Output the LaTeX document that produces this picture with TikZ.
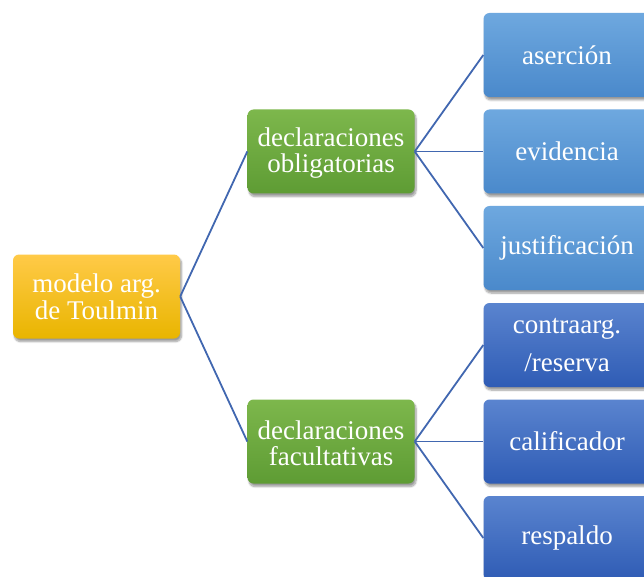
\documentclass[tikz,border=0pt]{standalone}
\usepackage{fontspec}
\setmainfont{Liberation Serif}
\usetikzlibrary{shadows.blur}
\definecolor{goldT}{HTML}{FFCA48}
\definecolor{goldB}{HTML}{E9B500}
\definecolor{greenT}{HTML}{7DB74C}
\definecolor{greenB}{HTML}{5E9C34}
\definecolor{lblueT}{HTML}{6EA8DF}
\definecolor{lblueB}{HTML}{4A89CB}
\definecolor{dblueT}{HTML}{5A84CF}
\definecolor{dblueB}{HTML}{2F5CB5}
\definecolor{linkc}{HTML}{4167B0}
\tikzset{
  x=1pt, y=-1pt,
  box/.style={rounded corners=6pt, minimum width=167pt, minimum height=84pt,
    text=white, align=center, font=\fontsize{27}{27}\selectfont, inner sep=0pt,
    blur shadow={shadow xshift=1.5pt, shadow yshift=-3pt, shadow blur steps=8, shadow opacity=40}},
  rootbox/.style={box, top color=goldT, bottom color=goldB},
  greenbox/.style={box, top color=greenT, bottom color=greenB, font=\fontsize{27}{26.5}\selectfont, text height=48.5pt},
  lbluebox/.style={box, top color=lblueT, bottom color=lblueB},
  dbluebox/.style={box, top color=dblueT, bottom color=dblueB},
  link/.style={draw=linkc, line width=1.8pt}
}
\begin{document}
\begin{tikzpicture}
\clip (0,0) rectangle (644,577);
\useasboundingbox (0,0) rectangle (644,577);
\node[rootbox] (root) at (96.5,296.5) {modelo arg.\\de Toulmin};
\node[greenbox] (ob) at (331,151.5) {declaraciones\\obligatorias};
\node[greenbox] (fa) at (331,441.5) {declaraciones\\facultativas};
\node[lbluebox] (as) at (567,55) {aserción};
\node[lbluebox] (ev) at (567,151.5) {evidencia};
\node[lbluebox] (ju) at (567,248) {justificación};
\node[dbluebox, font=\fontsize{27}{38}\selectfont] (co) at (567,345) {contraarg.\\/reserva};
\node[dbluebox] (ca) at (567,441.5) {calificador};
\node[dbluebox] (re) at (567,538) {respaldo};
\draw[link] (root.east) -- (ob.west);
\draw[link] (root.east) -- (fa.west);
\draw[link] (ob.east) -- (as.west);
\draw[link] (ob.east) -- (ev.west);
\draw[link] (ob.east) -- (ju.west);
\draw[link] (fa.east) -- (co.west);
\draw[link] (fa.east) -- (ca.west);
\draw[link] (fa.east) -- (re.west);
\end{tikzpicture}
\end{document}
